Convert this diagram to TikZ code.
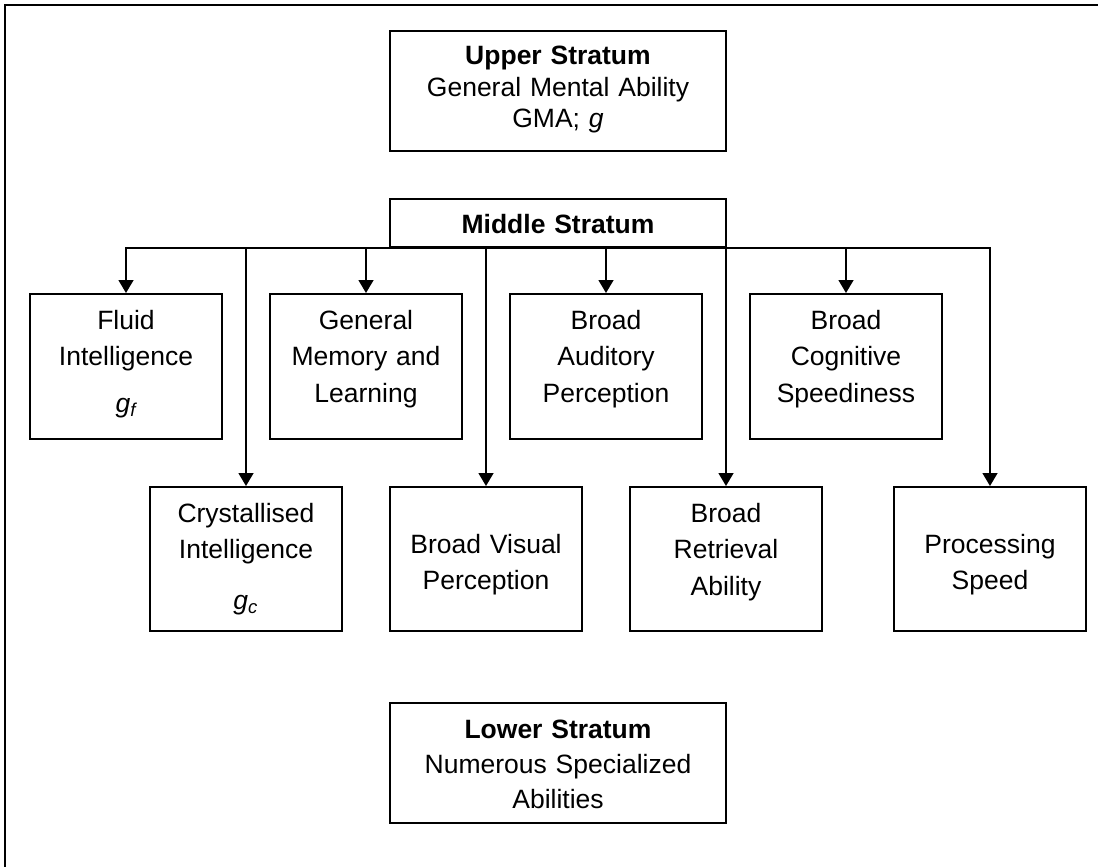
\documentclass[tikz,border=0pt]{standalone}
\usepackage{fontspec}
\setmainfont{Liberation Sans}
\usepackage{tikz}
\usetikzlibrary{arrows.meta}

\tikzset{
  stratum/.style={draw,line width=1pt,text width=168pt,inner sep=0pt,align=center,anchor=north,
    font=\fontsize{13.25}{16}\selectfont,text height=16.5pt,text depth=43.5pt},
  ability/.style={draw,line width=1pt,text width=96pt,inner sep=0pt,align=center,anchor=north,
    font=\fontsize{13.25}{18.25}\selectfont,text height=17.5pt,text depth=55pt},
  link/.style={-{Triangle[length=6.5pt,width=7.5pt]},line width=0.75pt},
}

\begin{document}
\begin{tikzpicture}[x=0.5pt,y=-0.5pt]
  \useasboundingbox (0,0) rectangle (1098,867);
  \draw[line width=1pt] (5,875) |- (1105,5);

  % strata
  \node[stratum] (upper) at (558,30) {\textbf{Upper Stratum}\\General Mental Ability\\GMA; \textit{g}};
  \node[stratum,text height=17pt,text depth=7pt] (middle) at (558,198) {\textbf{Middle Stratum}};
  \node[stratum,font=\fontsize{13.25}{17.5}\selectfont,text height=17.5pt,text depth=42.5pt]
    (lower) at (558,702) {\textbf{Lower Stratum}\\Numerous Specialized\\Abilities};

  % broad abilities, first row
  \node[ability] (fluid) at (126,293) {Fluid\\Intelligence\\[5pt]\textit{g\textsubscript{f}}};
  \node[ability] (memory) at (366,293) {General\\Memory and\\Learning};
  \node[ability] (auditory) at (606,293) {Broad\\Auditory\\Perception};
  \node[ability] (cognitive) at (846,293) {Broad\\Cognitive\\Speediness};

  % broad abilities, second row
  \node[ability,text depth=54.5pt] (crystal) at (246,486) {Crystallised\\Intelligence\\[7pt]\textit{g\textsubscript{c}}};
  \node[ability,text height=33pt,text depth=39pt] (visual) at (486,486) {Broad Visual\\Perception};
  \node[ability,text depth=54.5pt] (retrieval) at (726,486) {Broad\\Retrieval\\Ability};
  \node[ability,text height=33pt,text depth=39pt] (speed) at (990,486) {Processing\\Speed};

  \foreach \n in {fluid,crystal,memory,visual,auditory,retrieval,cognitive,speed}
    \draw[link] (middle.south) -| (\n.north);
\end{tikzpicture}
\end{document}
